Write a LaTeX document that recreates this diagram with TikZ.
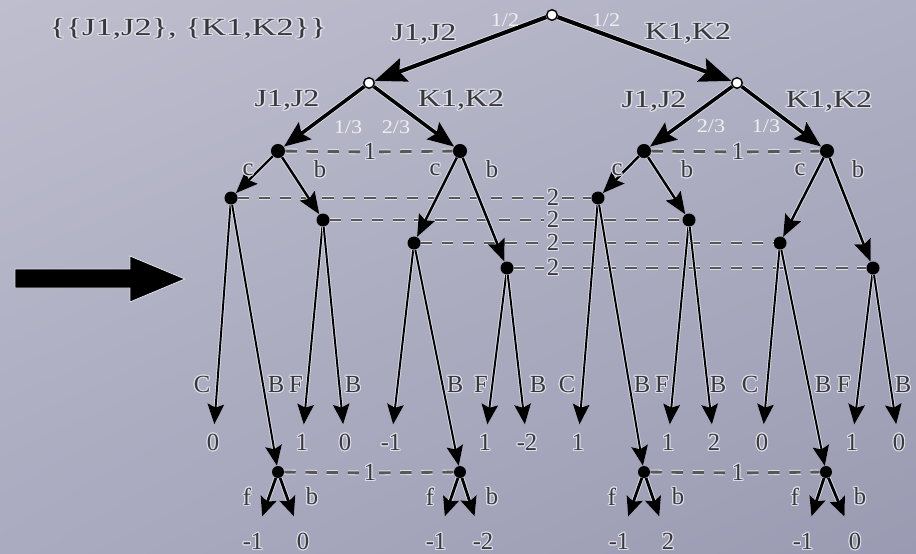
\documentclass[tikz,border=0pt]{standalone}
\usepackage{fontspec}
\setmainfont{Liberation Serif}
\usepackage[copies]{contour}
\usetikzlibrary{arrows.meta,shadings}

\definecolor{bgtl}{RGB}{190,190,206}
\definecolor{bgtr}{RGB}{176,176,196}
\definecolor{bgbl}{RGB}{170,170,192}
\definecolor{bgbr}{RGB}{154,154,178}
\definecolor{halo}{RGB}{222,222,232}
\definecolor{ink}{RGB}{55,55,60}

\contourlength{0.6pt}
\newcommand{\glow}[1]{\contour{halo}{#1}}

\tikzset{
  chance/.style={circle, draw=black, fill=white, line width=0.8pt, minimum size=6pt, inner sep=0pt},
  dot/.style={circle, fill=black, minimum size=#1, inner sep=0pt},
  dot/.default=8pt,
  lbl/.style={text=ink, font=\fontsize{14}{16}\selectfont, inner sep=0pt},
  pair/.style={lbl, xscale=1.3},
  prob/.style={text=white!92!ink, font=\fontsize{11}{12}\selectfont, inner sep=0pt, xscale=1.15},
  infoset/.style={draw=black!66, line width=1.6pt, dash pattern=on 6.5pt off 5.5pt,
    preaction={draw=halo, line width=2.8pt, dash pattern=on 6.5pt off 5.5pt}},
  e0/.style={line width=2.3pt, -{Stealth[length=18pt, width=14pt, inset=3pt]},
    preaction={draw=halo, line width=3.3pt}},
  e1/.style={line width=2pt, -{Stealth[length=15pt, width=12pt, inset=2.5pt]},
    preaction={draw=halo, line width=3pt}},
  e2/.style={line width=1.4pt, -{Stealth[length=12.5pt, width=10pt, inset=2pt]},
    preaction={draw=halo, line width=2.4pt}},
  e3/.style={line width=1.1pt, -{Stealth[length=11.5pt, width=9.5pt, inset=2pt]},
    preaction={draw=halo, line width=2.1pt}},
  e4/.style={line width=1.6pt, -{Stealth[length=11pt, width=9.5pt, inset=2pt]},
    preaction={draw=halo, line width=2.6pt}, shorten >=10pt},
}

\begin{document}
\begin{tikzpicture}[x=0.02cm, y=-0.02cm]
  \useasboundingbox (0,0) rectangle (916,554);
  \shade[upper left=bgtl, upper right=bgtr, lower left=bgbl, lower right=bgbr]
    (0,0) rectangle (916,554);

  % big arrow on the left
  \filldraw[fill=black, draw=halo, line width=0.5pt]
    (15,269) -- (130,269) -- (130,256) -- (185,279) -- (130,302) -- (130,288) -- (15,288) -- cycle;

  \node[pair, xscale=1.07] (title) at (188,29) {\glow{\{\{J1,J2\}, \{K1,K2\}\}}};

  % chance nodes
  \node[chance] (r) at (552,15) {};
  \node[chance] (cl) at (369,83) {};
  \node[chance] (cr) at (737,83) {};

  % player 1
  \node[dot] (p1) at (278,151) {};
  \node[dot] (p2) at (460,151) {};
  \node[dot] (p3) at (644,151) {};
  \node[dot] (p4) at (827,151) {};

  % player 2
  \foreach \n/\x/\y in {q1/231/198, q2/323/220, q3/414/243, q4/507/268,
                        q5/598/198, q6/689/220, q7/780/243, q8/873/268}
    \node[dot=7.4pt] (\n) at (\x,\y) {};

  % player 1 again
  \foreach \n/\x in {d1/278, d2/460, d3/644, d4/826}
    \node[dot=6.8pt] (\n) at (\x,472) {};

  % payoffs
  \foreach \n/\x/\v in {t1/213/0, t2/302/1, t3/345/0, t4/391/-1, t5/485/1, t6/527/-2,
                        t7/578/1, t8/668/1, t9/714/2, t10/762/0, t11/852/1, t12/899/0}
    \node[lbl] (\n) at (\x,443) {\glow{\v}};
  \foreach \n/\x/\v in {u1/253/-1, u2/303/0, u3/436/-1, u4/483/-2,
                        u5/619/-1, u6/668/2, u7/803/-1, u8/855/0}
    \node[lbl] (\n) at (\x,542) {\glow{\v}};

  % information sets
  \node[lbl, inner sep=1.5pt] (s1) at (370,152) {\glow{1}};
  \node[lbl, inner sep=1.5pt] (s2) at (738,152) {\glow{1}};
  \node[lbl, inner sep=1.5pt] (s3) at (370,473) {\glow{1}};
  \node[lbl, inner sep=1.5pt] (s4) at (738,473) {\glow{1}};
  \draw[infoset] (p1) -- (s1) -- (p2);
  \draw[infoset] (p3) -- (s2) -- (p4);
  \draw[infoset] (d1) -- (s3) -- (d2);
  \draw[infoset] (d3) -- (s4) -- (d4);
  \foreach \a/\b/\y [count=\i] in {q1/q5/198, q2/q6/220, q3/q7/243, q4/q8/268}
    {
      \node[lbl, inner sep=1.5pt] (w\i) at (553,\y) {\glow{2}};
      \draw[infoset] (\a) -- (w\i) -- (\b);
    }

  % moves
  \draw[e0] (r) -- (cl);
  \draw[e0] (r) -- (cr);
  \foreach \a/\b in {cl/p1, cl/p2, cr/p3, cr/p4}
    \draw[e1] (\a) -- (\b);
  \foreach \a/\b in {p1/q1, p1/q2, p2/q3, p2/q4, p3/q5, p3/q6, p4/q7, p4/q8}
    \draw[e2] (\a) -- (\b);
  \foreach \a/\b in {q1/t1, q2/t2, q2/t3, q3/t4, q4/t5, q4/t6,
                     q5/t7, q6/t8, q6/t9, q7/t10, q8/t11, q8/t12}
    \draw[e3, shorten >=5.5pt] (\a) -- (\b);
  \foreach \a/\b in {q1/d1, q3/d2, q5/d3, q7/d4}
    \draw[e3] (\a) -- (\b);
  \foreach \a/\b in {d1/u1, d1/u2, d2/u3, d2/u4, d3/u5, d3/u6, d4/u7, d4/u8}
    \draw[e4] (\a) -- (\b);

  % labels
  \node[pair] (j0) at (424,35) {\glow{J1,J2}};
  \node[pair] (k0) at (688,34) {\glow{K1,K2}};
  \node[prob] (h1) at (505,20) {1/2};
  \node[prob] (h2) at (606,20) {1/2};
  \node[pair] (j1) at (287,101) {\glow{J1,J2}};
  \node[pair] (k1) at (461,101) {\glow{K1,K2}};
  \node[pair] (j2) at (654,102) {\glow{J1,J2}};
  \node[pair] (k2) at (829,102) {\glow{K1,K2}};
  \node[prob] (h3) at (348,127) {1/3};
  \node[prob] (h4) at (396,127) {2/3};
  \node[prob] (h5) at (711,126) {2/3};
  \node[prob] (h6) at (766,126) {1/3};
  \foreach \x/\t [count=\i] in {248/c, 320/b, 435/c, 492/b, 617/c, 687/b, 800/c, 858/b}
    \node[lbl] (a\i) at (\x,170) {\glow{\t}};
  \foreach \x/\t [count=\i] in {202/C, 276/B, 296/F, 353/B, 455/B, 481/F, 538/B,
                                567/C, 642/B, 662/F, 718/B, 750/C, 823/B, 844/F, 903/B}
    \node[lbl] (m\i) at (\x,385) {\glow{\t}};
  \foreach \x/\t [count=\i] in {247/f, 312/b, 430/f, 492/b, 612/f, 678/b, 795/f, 860/b}
    \node[lbl] (g\i) at (\x,497) {\glow{\t}};
\end{tikzpicture}
\end{document}
